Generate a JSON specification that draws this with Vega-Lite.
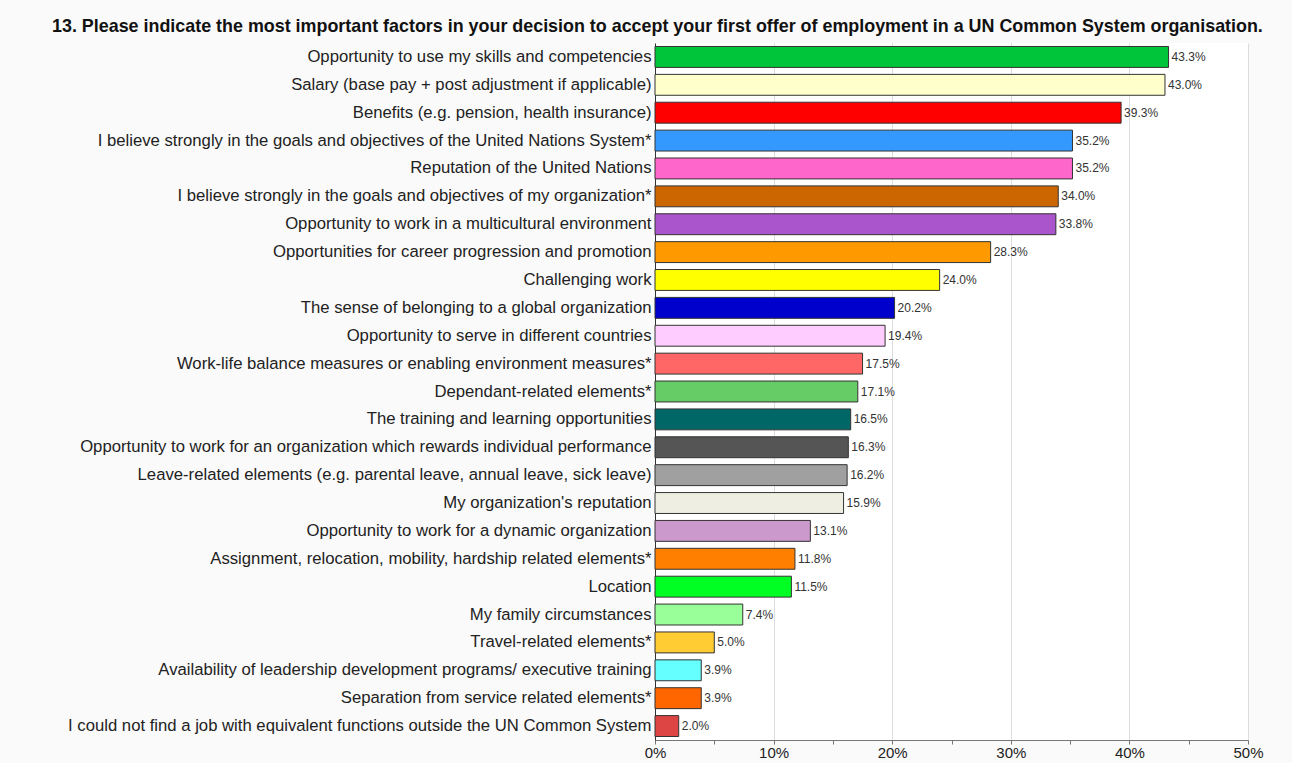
{
  "$schema": "https://vega.github.io/schema/vega-lite/v6.json",
  "autosize": "none",
  "width": 593,
  "height": 697,
  "padding": {"left": 655, "top": 43, "right": 44, "bottom": 23},
  "background": "#FAFAFA",
  "config": {
    "view": {"stroke": null, "fill": "white"},
    "font": "Liberation Sans"
  },
  "title": {
    "text": "13. Please indicate the most important factors in your decision to accept your first offer of employment in a UN Common System organisation.",
    "anchor": "start",
    "frame": "group",
    "dx": -603,
    "offset": 7,
    "fontSize": 17.9,
    "fontWeight": "bold",
    "color": "#111111",
    "font": "Liberation Sans"
  },
  "data": {
    "values": [
      {"factor": "Opportunity to use my skills and competencies", "pct": 43.3, "label": "43.3%"},
      {"factor": "Salary (base pay + post adjustment if applicable)", "pct": 43.0, "label": "43.0%"},
      {"factor": "Benefits (e.g. pension, health insurance)", "pct": 39.3, "label": "39.3%"},
      {"factor": "I believe strongly in the goals and objectives of the United Nations System*", "pct": 35.2, "label": "35.2%"},
      {"factor": "Reputation of the United Nations", "pct": 35.2, "label": "35.2%"},
      {"factor": "I believe strongly in the goals and objectives of my organization*", "pct": 34.0, "label": "34.0%"},
      {"factor": "Opportunity to work in a multicultural environment", "pct": 33.8, "label": "33.8%"},
      {"factor": "Opportunities for career progression and promotion", "pct": 28.3, "label": "28.3%"},
      {"factor": "Challenging work", "pct": 24.0, "label": "24.0%"},
      {"factor": "The sense of belonging to a global organization", "pct": 20.2, "label": "20.2%"},
      {"factor": "Opportunity to serve in different countries", "pct": 19.4, "label": "19.4%"},
      {"factor": "Work-life balance measures or enabling environment measures*", "pct": 17.5, "label": "17.5%"},
      {"factor": "Dependant-related elements*", "pct": 17.1, "label": "17.1%"},
      {"factor": "The training and learning opportunities", "pct": 16.5, "label": "16.5%"},
      {"factor": "Opportunity to work for an organization which rewards individual performance", "pct": 16.3, "label": "16.3%"},
      {"factor": "Leave-related elements (e.g. parental leave, annual leave, sick leave)", "pct": 16.2, "label": "16.2%"},
      {"factor": "My organization's reputation", "pct": 15.9, "label": "15.9%"},
      {"factor": "Opportunity to work for a dynamic organization", "pct": 13.1, "label": "13.1%"},
      {"factor": "Assignment, relocation, mobility, hardship related elements*", "pct": 11.8, "label": "11.8%"},
      {"factor": "Location", "pct": 11.5, "label": "11.5%"},
      {"factor": "My family circumstances", "pct": 7.4, "label": "7.4%"},
      {"factor": "Travel-related elements*", "pct": 5.0, "label": "5.0%"},
      {"factor": "Availability of leadership development programs/ executive training", "pct": 3.9, "label": "3.9%"},
      {"factor": "Separation from service related elements*", "pct": 3.9, "label": "3.9%"},
      {"factor": "I could not find a job with equivalent functions outside the UN Common System", "pct": 2.0, "label": "2.0%"}
    ]
  },
  "encoding": {
    "y": {
      "field": "factor",
      "type": "nominal",
      "sort": null,
      "scale": {"paddingInner": 0.25, "paddingOuter": 0.125},
      "axis": {
        "title": null,
        "labelFontSize": 16.7,
        "labelColor": "#222222",
        "labelPadding": 4,
        "labelLimit": 700,
        "ticks": false,
        "domain": true,
        "domainColor": "#333333"
      }
    },
    "x": {
      "field": "pct",
      "type": "quantitative",
      "scale": {"domain": [0, 50], "nice": false},
      "axis": {
        "title": null,
        "values": [0, 5, 10, 15, 20, 25, 30, 35, 40, 45, 50],
        "labelExpr": "datum.value % 10 == 0 ? datum.value + '%' : ''",
        "labelFlush": false,
        "labelFontSize": 15,
        "labelColor": "#222222",
        "labelPadding": 1,
        "grid": true,
        "gridColor": {"condition": {"test": "datum.value % 10 == 0", "value": "#DDDDDD"}, "value": "transparent"},
        "domainColor": "#777777",
        "tickColor": "#777777",
        "tickSize": 4
      }
    }
  },
  "layer": [
    {
      "mark": {"type": "bar", "stroke": "#333333", "strokeWidth": 1},
      "encoding": {
        "color": {
          "field": "factor",
          "type": "nominal",
          "legend": null,
          "scale": {
            "domain": [
              "Opportunity to use my skills and competencies",
              "Salary (base pay + post adjustment if applicable)",
              "Benefits (e.g. pension, health insurance)",
              "I believe strongly in the goals and objectives of the United Nations System*",
              "Reputation of the United Nations",
              "I believe strongly in the goals and objectives of my organization*",
              "Opportunity to work in a multicultural environment",
              "Opportunities for career progression and promotion",
              "Challenging work",
              "The sense of belonging to a global organization",
              "Opportunity to serve in different countries",
              "Work-life balance measures or enabling environment measures*",
              "Dependant-related elements*",
              "The training and learning opportunities",
              "Opportunity to work for an organization which rewards individual performance",
              "Leave-related elements (e.g. parental leave, annual leave, sick leave)",
              "My organization's reputation",
              "Opportunity to work for a dynamic organization",
              "Assignment, relocation, mobility, hardship related elements*",
              "Location",
              "My family circumstances",
              "Travel-related elements*",
              "Availability of leadership development programs/ executive training",
              "Separation from service related elements*",
              "I could not find a job with equivalent functions outside the UN Common System"
            ],
            "range": [
              "#00C43A", "#FFFFCC", "#FF0000", "#3399FF", "#FF66CC",
              "#CC6600", "#AA55CC", "#FF9900", "#FFFF00", "#0000CC",
              "#FFCCFF", "#FF6666", "#66CC66", "#006666", "#555555",
              "#A0A0A0", "#EEEEE2", "#CC99CC", "#FF8000", "#00FF22",
              "#99FF99", "#FFCC33", "#66FFFF", "#FF6600", "#DD4444"
            ]
          }
        }
      }
    },
    {
      "mark": {"type": "text", "align": "left", "dx": 3, "fontSize": 12, "color": "#333333"},
      "encoding": {"text": {"field": "label"}}
    }
  ]
}
